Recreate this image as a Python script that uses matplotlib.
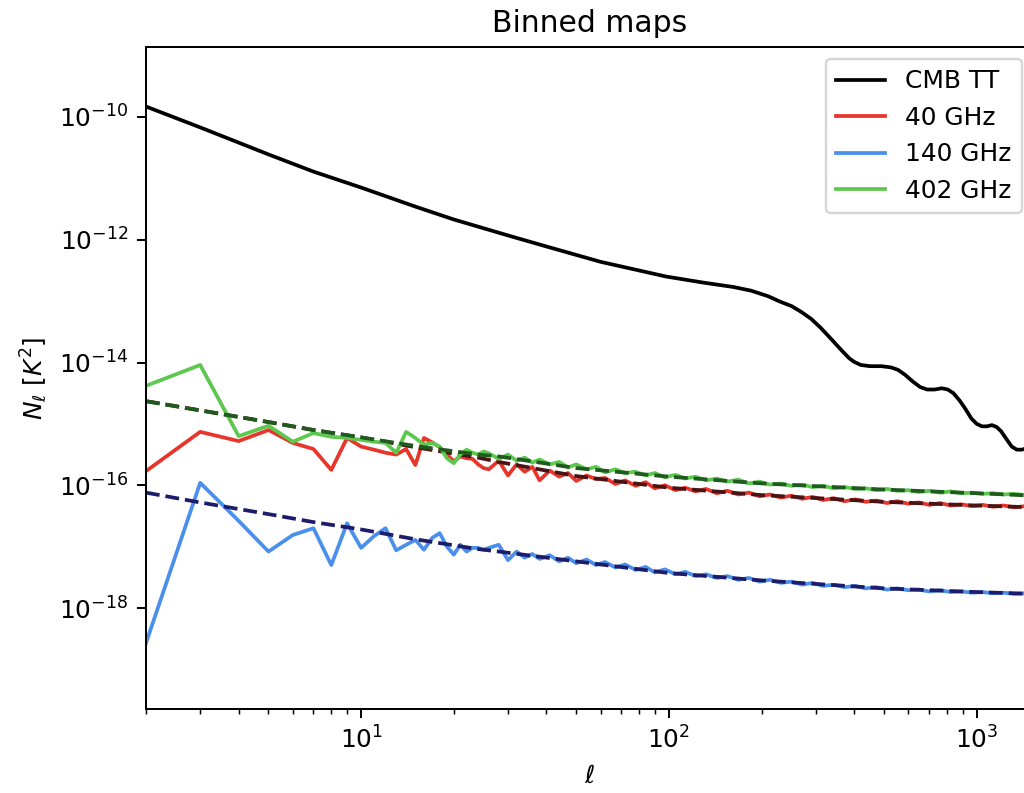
import numpy as np
import matplotlib
matplotlib.use("Agg")
import matplotlib.pyplot as plt
from matplotlib.ticker import NullLocator

# -----------------------------
# Data (log10 of N_ell in K^2)
# -----------------------------
ell_cmb = [2, 3, 5, 7, 10, 15, 20, 30, 40, 60, 98, 130, 162, 185, 210, 230, 250,
           268, 290, 312, 337, 362, 385, 400, 420, 450, 490, 527, 555, 585, 620,
           655, 690, 730, 770, 805, 840, 880, 920, 960, 1000, 1040, 1080, 1120,
           1160, 1200, 1250, 1300, 1350, 1400, 1450, 1535]
log_cmb = [-9.83, -10.17, -10.61, -10.89, -11.15, -11.46, -11.67, -11.93, -12.11,
           -12.36, -12.60, -12.70, -12.77, -12.83, -12.92, -13.01, -13.08, -13.17,
           -13.29, -13.44, -13.62, -13.79, -13.93, -13.99, -14.04, -14.06, -14.06,
           -14.08, -14.12, -14.20, -14.31, -14.40, -14.44, -14.44, -14.42, -14.44,
           -14.50, -14.62, -14.76, -14.91, -15.00, -15.04, -15.04, -15.02, -15.05,
           -15.12, -15.25, -15.37, -15.42, -15.42, -15.40, -15.38]

# measured spectra: every ell up to 25, then a sparser set
ell_meas = list(range(2, 26)) + [
    26, 28, 30, 32, 34, 36, 38, 41, 44, 47, 50, 54, 58, 62, 67, 72, 78, 84, 90,
    97, 105, 113, 122, 132, 143, 155, 168, 182, 197, 213, 231, 250, 271, 293,
    317, 343, 372, 403, 436, 472, 511, 553, 599, 648, 702, 760, 823, 891, 965,
    1045, 1131, 1225, 1326, 1436, 1535]

log_40 = [-15.77, -15.13, -15.28, -15.10, -15.31, -15.41, -15.75, -15.23, -15.37,
          -15.42, -15.47, -15.50, -15.41, -15.67, -15.23, -15.30, -15.38, -15.50,
          -15.61, -15.53, -15.56, -15.57, -15.66, -15.72,
          -15.74, -15.60, -15.84, -15.66, -15.78, -15.70, -15.92, -15.76, -15.86,
          -15.80, -15.93, -15.84, -15.90, -15.88, -15.98, -15.92, -16.01, -15.95,
          -16.05, -16.00, -16.08, -16.04, -16.10, -16.06, -16.13, -16.09, -16.15,
          -16.12, -16.18, -16.15, -16.20, -16.17, -16.22, -16.19, -16.24, -16.21,
          -16.26, -16.23, -16.27, -16.25, -16.29, -16.26, -16.30, -16.28, -16.32,
          -16.29, -16.33, -16.31, -16.34, -16.32, -16.35, -16.33, -16.36, -16.34,
          -16.36]

log_140 = [-18.57, -15.96, -16.58, -17.08, -16.81, -16.70, -17.30, -16.62, -17.02,
           -16.83, -16.70, -17.06, -16.97, -16.89, -17.05, -16.86, -16.78, -17.00,
           -17.13, -16.97, -17.08, -17.02, -17.02, -17.05,
           -17.02, -16.97, -17.22, -17.08, -17.18, -17.12, -17.20, -17.14, -17.24,
           -17.18, -17.27, -17.21, -17.30, -17.25, -17.34, -17.29, -17.38, -17.33,
           -17.42, -17.37, -17.45, -17.41, -17.48, -17.45, -17.51, -17.48, -17.54,
           -17.51, -17.57, -17.54, -17.59, -17.57, -17.62, -17.59, -17.64, -17.62,
           -17.66, -17.64, -17.68, -17.66, -17.70, -17.68, -17.71, -17.70, -17.73,
           -17.71, -17.74, -17.73, -17.75, -17.74, -17.76, -17.75, -17.77, -17.76,
           -17.78]

log_402 = [-14.38, -14.04, -15.20, -15.03, -15.29, -15.15, -15.21, -15.23, -15.26,
           -15.29, -15.31, -15.47, -15.13, -15.23, -15.34, -15.31, -15.37, -15.56,
           -15.64, -15.50, -15.42, -15.47, -15.50, -15.45,
           -15.48, -15.57, -15.50, -15.60, -15.55, -15.63, -15.58, -15.66, -15.62,
           -15.71, -15.66, -15.74, -15.70, -15.79, -15.74, -15.80, -15.78, -15.84,
           -15.80, -15.87, -15.83, -15.89, -15.86, -15.92, -15.89, -15.94, -15.91,
           -15.97, -15.94, -15.99, -15.97, -16.01, -15.99, -16.03, -16.01, -16.05,
           -16.03, -16.06, -16.05, -16.08, -16.06, -16.09, -16.08, -16.11, -16.09,
           -16.12, -16.10, -16.13, -16.12, -16.14, -16.13, -16.15, -16.14, -16.16,
           -16.16]

# model noise curves (dashed)
ell_model = [2, 3, 5, 7, 10, 15, 24, 28, 50, 100, 200, 500, 1000, 1535]
model_40 = [-14.63, -14.78, -14.97, -15.10, -15.22, -15.38, -15.55, -15.62, -15.85,
            -16.04, -16.16, -16.27, -16.33, -16.36]
model_140 = [-16.12, -16.28, -16.47, -16.60, -16.72, -16.88, -17.04, -17.08, -17.24,
             -17.43, -17.55, -17.68, -17.74, -17.77]
model_402 = [-14.63, -14.78, -14.97, -15.10, -15.22, -15.36, -15.50, -15.53, -15.72,
             -15.86, -15.97, -16.07, -16.13, -16.17]

labels = ["40 GHz", "140 GHz", "402 GHz"]
colors = ["#e8352c", "#4a8fec", "#5cc84e"]
dark_colors = ["#4a1414", "#1c1c6a", "#1f5a1f"]

# -----------------------------
# Plot
# -----------------------------
dpi = 179
fig = plt.figure(figsize=(1024 / dpi, 793 / dpi), dpi=dpi)
ax = fig.add_axes([146 / 1024, 84 / 793, 888 / 1024, 662 / 793])

ax.plot(ell_cmb, 10 ** np.array(log_cmb), color="black", lw=1.5, label="CMB TT")
for lab, col, dcol, meas, model in zip(labels, colors, dark_colors,
                                       [log_40, log_140, log_402],
                                       [model_40, model_140, model_402]):
    ax.plot(ell_meas, 10 ** np.array(meas), color=col, lw=1.5, label=lab)
    ax.plot(ell_model, 10 ** np.array(model), color=dcol, lw=1.5, ls="--")

ax.set_xscale("log")
ax.set_yscale("log")
ax.set_xlim(2, 1535)
ax.set_ylim(10 ** -19.645, 10 ** -8.86)
ax.set_yticks([1e-18, 1e-16, 1e-14, 1e-12, 1e-10])
ax.yaxis.set_minor_locator(NullLocator())

ax.set_title("Binned maps")
ax.set_xlabel(r"$\ell$")
ax.set_ylabel(r"$N_\ell$ [$K^2$]")
ax.legend(loc="upper right")

fig.savefig("out.png", dpi=dpi)
